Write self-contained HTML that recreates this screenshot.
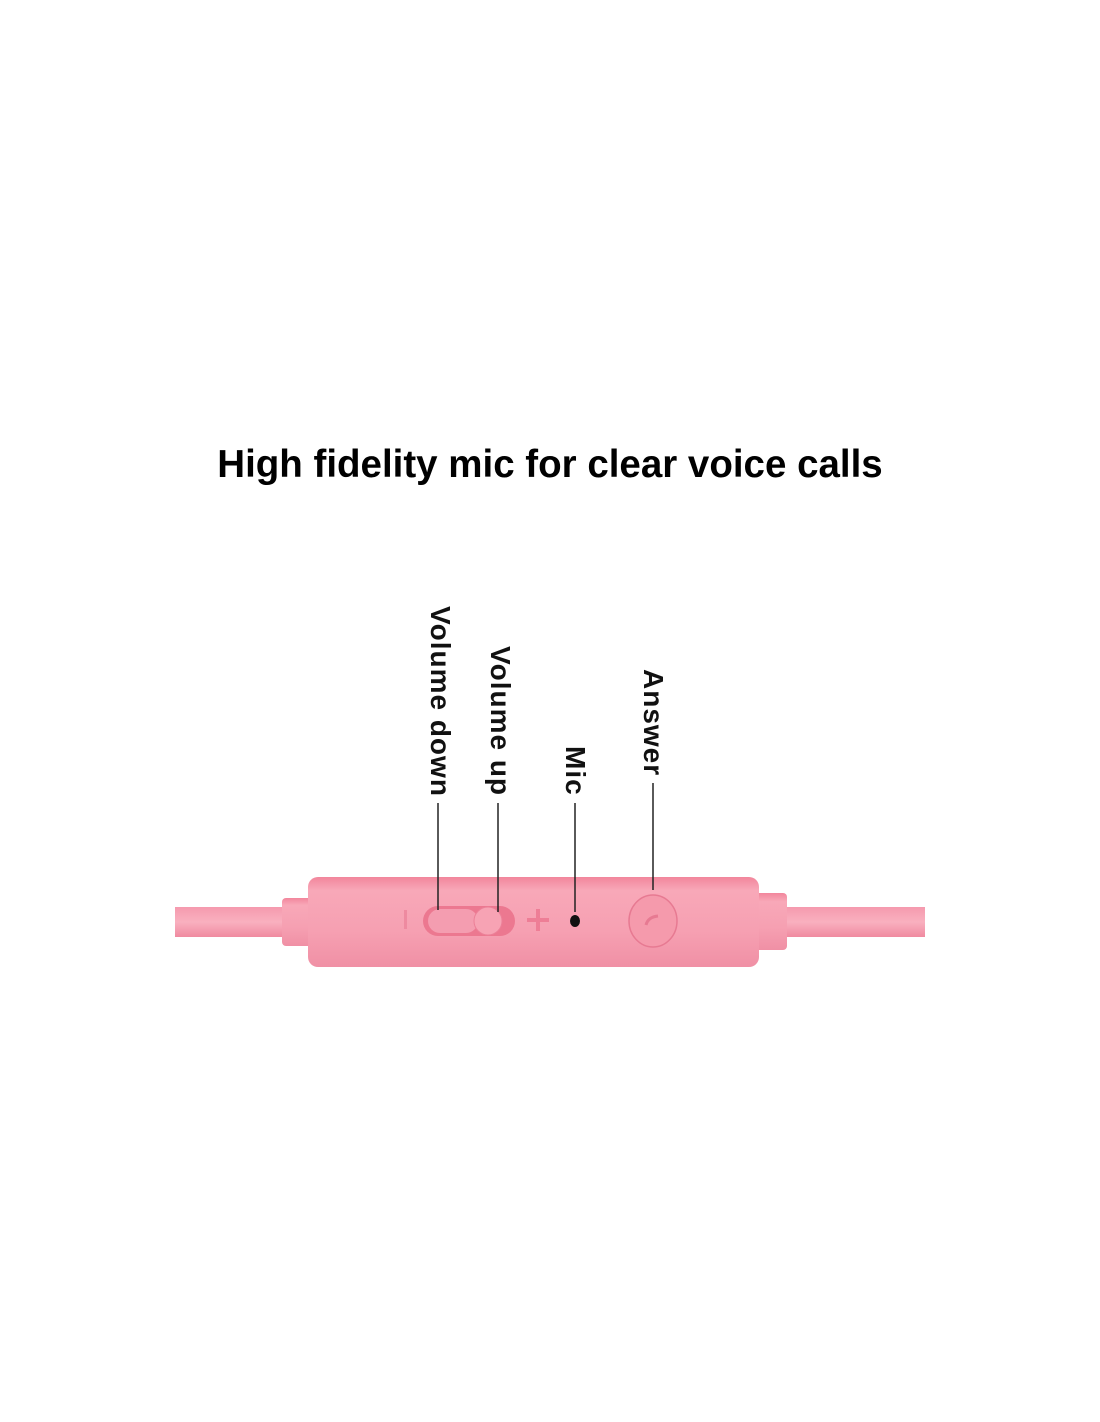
<!DOCTYPE html>
<html><head><style>
body{margin:0;width:1100px;height:1422px;background:#fff;position:relative;overflow:hidden;font-family:"Liberation Sans",sans-serif}
.t{position:absolute;left:0;width:1100px;text-align:center;top:443px;font-size:38.5px;font-weight:bold;color:#000}
.v{position:absolute;font-size:28px;letter-spacing:1px;font-weight:bold;writing-mode:vertical-rl;color:#111;line-height:26px}
</style></head><body>
<div class="t">High fidelity mic for clear voice calls</div>
<div class="v" style="left:427px;top:606px">Volume down</div>
<div class="v" style="left:487px;top:646px">Volume up</div>
<div class="v" style="left:562px;top:746px">Mic</div>
<div class="v" style="left:640px;top:669px">Answer</div>
<svg width="1100" height="1422" style="position:absolute;left:0;top:0">
<defs>
<linearGradient id="g" x1="0" y1="0" x2="0" y2="1">
<stop offset="0" stop-color="#f2869c"/><stop offset="0.15" stop-color="#f8a8b8"/><stop offset="0.6" stop-color="#f6a0b2"/><stop offset="1" stop-color="#f090a5"/></linearGradient>
<linearGradient id="c" x1="0" y1="0" x2="0" y2="1">
<stop offset="0" stop-color="#f59aae"/><stop offset="0.5" stop-color="#f9b0bf"/><stop offset="1" stop-color="#f08aa0"/></linearGradient>
</defs>
<rect x="175" y="907" width="750" height="30" fill="url(#c)"/>
<rect x="282" y="898" width="30" height="48" rx="4" fill="url(#g)"/>
<rect x="754" y="893" width="33" height="57" rx="4" fill="url(#g)"/>
<rect x="308" y="877" width="451" height="90" rx="10" fill="url(#g)"/>
<rect x="404" y="910" width="3" height="19" fill="#ee8aa0"/>
<rect x="423" y="906" width="92" height="30" rx="15" fill="#ec7890"/>
<rect x="428" y="909" width="50" height="24" rx="12" fill="#f49db0"/>
<circle cx="488" cy="921" r="14" fill="#f7a3b4" stroke="#ec8098" stroke-width="1"/>
<rect x="527" y="918" width="22" height="4" fill="#ee7e96"/>
<rect x="536" y="909" width="4" height="22" fill="#ee7e96"/>
<ellipse cx="575" cy="921" rx="5" ry="6" fill="#111"/>
<ellipse cx="653" cy="921" rx="24" ry="26" fill="#f59aac" stroke="#e77a92" stroke-width="1.5"/>
<path d="M646 925 q2 -8 12 -9" stroke="#e77a92" stroke-width="3" fill="none"/>
<g stroke="#222" stroke-width="1.5">
<line x1="438" y1="803" x2="438" y2="910"/>
<line x1="498" y1="803" x2="498" y2="912"/>
<line x1="575" y1="803" x2="575" y2="912"/>
<line x1="653" y1="783" x2="653" y2="890"/>
</g>
</svg>
</body></html>
